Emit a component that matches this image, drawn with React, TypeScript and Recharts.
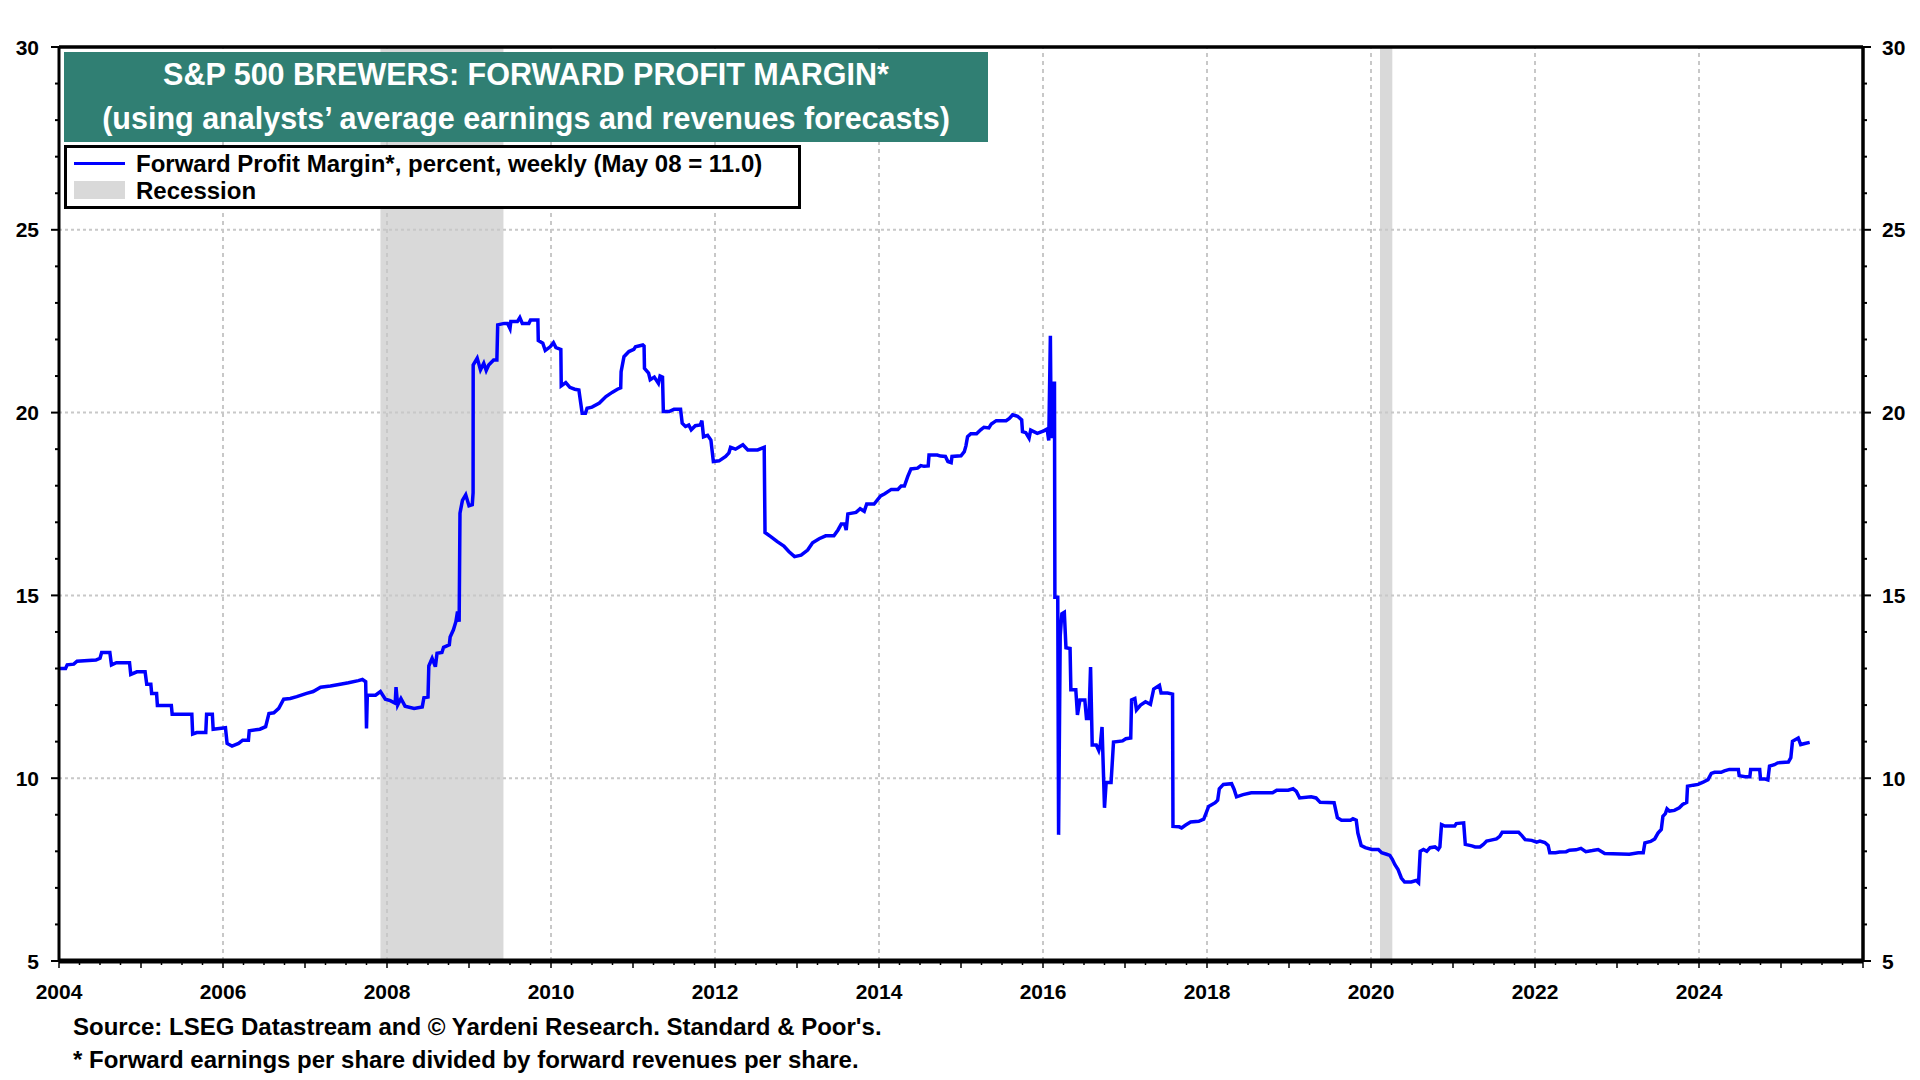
import React from 'react'
import {LineChart, Line, XAxis, YAxis, ReferenceArea, ReferenceLine} from 'recharts'

// weekly forward profit margin (decimal years)
const dates2004 = [2004.0, 2004.08, 2004.1, 2004.18, 2004.22, 2004.45, 2004.5, 2004.52, 2004.62, 2004.64, 2004.7, 2004.86, 2004.875, 2004.95, 2005.05, 2005.07, 2005.12, 2005.13, 2005.19, 2005.2, 2005.37, 2005.38, 2005.62, 2005.63, 2005.68, 2005.79, 2005.8, 2005.87, 2005.88, 2006.03, 2006.05, 2006.11, 2006.19, 2006.24, 2006.31, 2006.32, 2006.45, 2006.52, 2006.56, 2006.62, 2006.68, 2006.74, 2006.82, 2006.9, 2007.02, 2007.1, 2007.19, 2007.31, 2007.43, 2007.53, 2007.65, 2007.7, 2007.74, 2007.75, 2007.76, 2007.86, 2007.92, 2007.98, 2008.04, 2008.1, 2008.11, 2008.13, 2008.17, 2008.22, 2008.33, 2008.43, 2008.45, 2008.5]
const margins2004 = [13.0, 13.0, 13.1, 13.12, 13.2, 13.23, 13.28, 13.44, 13.44, 13.1, 13.16, 13.16, 12.84, 12.91, 12.91, 12.57, 12.57, 12.32, 12.32, 11.99, 11.99, 11.75, 11.75, 11.21, 11.25, 11.25, 11.75, 11.75, 11.34, 11.38, 10.95, 10.88, 10.95, 11.04, 11.04, 11.3, 11.34, 11.41, 11.77, 11.79, 11.91, 12.16, 12.18, 12.23, 12.32, 12.37, 12.49, 12.52, 12.57, 12.61, 12.67, 12.7, 12.64, 11.36, 12.27, 12.27, 12.37, 12.16, 12.12, 12.05, 12.49, 12.0, 12.18, 11.97, 11.91, 11.95, 12.2, 12.22]

const dates2008 = [2008.51, 2008.55, 2008.59, 2008.61, 2008.67, 2008.69, 2008.76, 2008.77, 2008.81, 2008.84, 2008.86, 2008.88, 2008.89, 2008.92, 2008.96, 2009.0, 2009.04, 2009.05, 2009.051, 2009.1, 2009.14, 2009.18, 2009.21, 2009.24, 2009.3, 2009.34, 2009.35, 2009.43, 2009.47, 2009.5, 2009.51, 2009.59, 2009.62, 2009.65, 2009.73, 2009.75, 2009.84, 2009.845, 2009.9, 2009.93, 2009.99, 2010.03, 2010.06, 2010.12, 2010.125, 2010.18, 2010.23, 2010.29, 2010.34, 2010.38, 2010.42, 2010.44, 2010.5, 2010.59, 2010.67, 2010.75, 2010.81, 2010.85, 2010.855, 2010.89, 2010.95, 2011.01, 2011.03, 2011.12, 2011.135, 2011.14, 2011.19, 2011.21, 2011.26, 2011.31, 2011.33, 2011.36, 2011.37, 2011.44, 2011.5, 2011.58, 2011.6, 2011.64, 2011.68, 2011.71, 2011.76, 2011.82, 2011.84, 2011.86, 2011.91, 2011.95, 2011.98]
const margins2008 = [13.07, 13.28, 13.05, 13.42, 13.44, 13.58, 13.65, 13.86, 14.06, 14.28, 14.56, 14.28, 17.25, 17.6, 17.75, 17.45, 17.48, 17.81, 21.3, 21.49, 21.17, 21.35, 21.15, 21.3, 21.44, 21.44, 22.4, 22.44, 22.44, 22.3, 22.49, 22.49, 22.6, 22.44, 22.44, 22.53, 22.53, 21.97, 21.9, 21.7, 21.8, 21.91, 21.78, 21.73, 20.73, 20.82, 20.69, 20.64, 20.62, 19.98, 19.98, 20.12, 20.15, 20.26, 20.44, 20.56, 20.64, 20.68, 21.12, 21.53, 21.67, 21.73, 21.8, 21.85, 21.82, 21.21, 21.08, 20.9, 20.97, 20.8, 21.0, 20.97, 20.03, 20.03, 20.09, 20.09, 19.71, 19.62, 19.66, 19.53, 19.64, 19.66, 19.78, 19.34, 19.38, 19.25, 18.66]

const dates2012 = [2012.05, 2012.13, 2012.17, 2012.19, 2012.25, 2012.34, 2012.4, 2012.52, 2012.6, 2012.61, 2012.68, 2012.76, 2012.84, 2012.9, 2012.97, 2013.05, 2013.13, 2013.19, 2013.27, 2013.35, 2013.45, 2013.5, 2013.54, 2013.58, 2013.6, 2013.62, 2013.72, 2013.77, 2013.82, 2013.85, 2013.94, 2014.02, 2014.07, 2014.15, 2014.23, 2014.27, 2014.31, 2014.35, 2014.39, 2014.47, 2014.51, 2014.55, 2014.6, 2014.61, 2014.71, 2014.75, 2014.81, 2014.84, 2014.88, 2014.89, 2015.0, 2015.04, 2015.06, 2015.08, 2015.12, 2015.19, 2015.24, 2015.28, 2015.34, 2015.37, 2015.43, 2015.55, 2015.59, 2015.63, 2015.69, 2015.74, 2015.75, 2015.79, 2015.83, 2015.85, 2015.93, 2016.01, 2016.05, 2016.07]
const margins2012 = [18.68, 18.8, 18.9, 19.05, 19.0, 19.12, 18.98, 18.98, 19.05, 16.72, 16.61, 16.47, 16.35, 16.2, 16.06, 16.1, 16.24, 16.44, 16.55, 16.63, 16.63, 16.79, 16.95, 16.95, 16.79, 17.23, 17.27, 17.37, 17.3, 17.5, 17.5, 17.72, 17.78, 17.9, 17.9, 17.99, 17.99, 18.25, 18.46, 18.48, 18.55, 18.53, 18.54, 18.84, 18.84, 18.81, 18.8, 18.66, 18.63, 18.8, 18.82, 18.93, 19.09, 19.34, 19.42, 19.42, 19.53, 19.6, 19.58, 19.69, 19.78, 19.78, 19.84, 19.94, 19.9, 19.8, 19.48, 19.45, 19.3, 19.52, 19.43, 19.5, 19.55, 19.24]

const dates2016 = [2016.09, 2016.1, 2016.12, 2016.14, 2016.145, 2016.18, 2016.19, 2016.21, 2016.23, 2016.26, 2016.28, 2016.33, 2016.34, 2016.4, 2016.42, 2016.45, 2016.51, 2016.53, 2016.56, 2016.58, 2016.6, 2016.65, 2016.68, 2016.7, 2016.72, 2016.75, 2016.77, 2016.83, 2016.86, 2016.97, 2017.01, 2017.07, 2017.08, 2017.12, 2017.14, 2017.19, 2017.25, 2017.31, 2017.35, 2017.42, 2017.44, 2017.52, 2017.58, 2017.585, 2017.66, 2017.69, 2017.74, 2017.8, 2017.9, 2017.96, 2017.99, 2018.02, 2018.1, 2018.13, 2018.15, 2018.2, 2018.3, 2018.33, 2018.36, 2018.44, 2018.54, 2018.8, 2018.85, 2018.99, 2019.05, 2019.09, 2019.13, 2019.27, 2019.33, 2019.38, 2019.55, 2019.59, 2019.64, 2019.75, 2019.78, 2019.82, 2019.84, 2019.88, 2019.93]
const margins2016 = [22.1, 19.3, 20.8, 20.8, 14.95, 14.95, 8.45, 13.9, 14.5, 14.54, 13.57, 13.55, 12.42, 12.42, 11.73, 12.14, 12.14, 11.63, 11.63, 13.04, 10.91, 10.91, 10.76, 10.94, 11.4, 9.19, 9.88, 9.88, 10.99, 11.02, 11.08, 11.1, 12.14, 12.18, 11.87, 12.0, 12.09, 12.02, 12.44, 12.54, 12.33, 12.33, 12.3, 8.68, 8.67, 8.64, 8.72, 8.8, 8.82, 8.88, 9.05, 9.23, 9.33, 9.4, 9.71, 9.83, 9.85, 9.7, 9.49, 9.55, 9.6, 9.6, 9.67, 9.67, 9.71, 9.64, 9.46, 9.49, 9.46, 9.34, 9.33, 8.92, 8.85, 8.85, 8.89, 8.85, 8.5, 8.16, 8.1]

const dates2020 = [2020.01, 2020.09, 2020.13, 2020.19, 2020.23, 2020.26, 2020.29, 2020.33, 2020.37, 2020.41, 2020.49, 2020.55, 2020.58, 2020.6, 2020.64, 2020.68, 2020.72, 2020.78, 2020.82, 2020.84, 2020.86, 2020.9, 2021.02, 2021.04, 2021.13, 2021.15, 2021.23, 2021.27, 2021.33, 2021.37, 2021.41, 2021.45, 2021.53, 2021.57, 2021.6, 2021.8, 2021.84, 2021.88, 2021.96, 2022.02, 2022.06, 2022.12, 2022.16, 2022.18, 2022.25, 2022.3, 2022.38, 2022.42, 2022.5, 2022.56, 2022.62, 2022.7, 2022.77, 2022.82, 2022.85, 2023.05, 2023.15, 2023.26, 2023.32, 2023.34, 2023.41, 2023.46, 2023.5, 2023.54, 2023.56, 2023.59, 2023.61, 2023.64, 2023.7, 2023.76, 2023.8, 2023.85, 2023.86, 2023.93, 2023.99, 2024.05, 2024.11, 2024.15, 2024.19, 2024.27, 2024.31, 2024.37, 2024.48, 2024.49, 2024.56, 2024.62, 2024.63, 2024.74, 2024.75, 2024.8, 2024.84, 2024.86, 2024.92, 2024.96, 2025.09, 2025.12, 2025.14, 2025.21, 2025.24, 2025.29, 2025.35]
const margins2020 = [8.05, 8.05, 7.96, 7.92, 7.89, 7.78, 7.64, 7.5, 7.27, 7.16, 7.16, 7.2, 7.14, 8.0, 8.05, 8.0, 8.1, 8.12, 8.05, 8.12, 8.73, 8.69, 8.69, 8.76, 8.78, 8.19, 8.15, 8.12, 8.12, 8.19, 8.28, 8.3, 8.34, 8.41, 8.52, 8.52, 8.43, 8.32, 8.3, 8.25, 8.28, 8.24, 8.16, 7.96, 7.96, 7.98, 7.99, 8.03, 8.04, 8.08, 7.99, 8.02, 8.05, 7.98, 7.94, 7.93, 7.92, 7.96, 7.96, 8.23, 8.27, 8.34, 8.5, 8.6, 8.96, 9.03, 9.16, 9.1, 9.12, 9.19, 9.28, 9.34, 9.78, 9.81, 9.83, 9.89, 9.96, 10.13, 10.16, 10.16, 10.2, 10.24, 10.24, 10.07, 10.04, 10.04, 10.24, 10.24, 9.98, 9.98, 9.95, 10.33, 10.37, 10.42, 10.44, 10.56, 11.01, 11.1, 10.92, 10.95, 10.98]

const recessions = [[2007.92, 2009.42], [2020.11, 2020.26]]
const yearLabels = [2004, 2006, 2008, 2010, 2012, 2014, 2016, 2018, 2020, 2022, 2024]
const valueLabels = [5, 10, 15, 20, 25, 30]

const allDates = [...dates2004, ...dates2008, ...dates2012, ...dates2016, ...dates2020]
const allMargins = [...margins2004, ...margins2008, ...margins2012, ...margins2016, ...margins2020]
const data = allDates.map((t, i) => ({t, v: allMargins[i]}))

const quarterTicks: number[] = []
for (let q = 0; q <= 88; q++) quarterTicks.push(2004 + q / 4)
const unitTicks: number[] = []
for (let u = 5; u <= 30; u++) unitTicks.push(u)

const FONT = '"Liberation Sans", Arial, sans-serif'
const GRID = '#c8c8c8'

const LeftTick = ({x, y, payload}) => {
  const major = valueLabels.includes(payload.value)
  return (
    <g>
      <line x1={x} x2={x - (major ? 8 : 4)} y1={y} y2={y} stroke="#000" strokeWidth={2}/>
      {major && <text x={x - 20} y={y} textAnchor="end" dominantBaseline="central" fontFamily={FONT} fontWeight="bold" fontSize={21} fill="#000">{payload.value}</text>}
    </g>
  )
}

const RightTick = ({x, y, payload}) => {
  const major = valueLabels.includes(payload.value)
  return (
    <g>
      <line x1={x} x2={x + (major ? 8 : 4)} y1={y} y2={y} stroke="#000" strokeWidth={2}/>
      {major && <text x={x + 19} y={y} textAnchor="start" dominantBaseline="central" fontFamily={FONT} fontWeight="bold" fontSize={21} fill="#000">{payload.value}</text>}
    </g>
  )
}

const BottomTick = ({x, y, payload}) => {
  const yr = Math.round(payload.value * 4) / 4
  const whole = Number.isInteger(yr)
  const label = yearLabels.includes(yr)
  return (
    <g>
      <line x1={x} x2={x} y1={y} y2={y + (whole ? 7 : 4)} stroke="#000" strokeWidth={1.5}/>
      {label && <text x={x} y={y + 30} textAnchor="middle" dominantBaseline="central" fontFamily={FONT} fontWeight="bold" fontSize={21} fill="#000">{yr}</text>}
    </g>
  )
}

export default function App() {
  return (
    <div style={{position: 'absolute', left: 0, top: 0, width: 1920, height: 1080, background: '#fff', fontFamily: FONT}}>
      <LineChart width={1920} height={1080} data={data} margin={{top: 47, right: 7, bottom: 79, left: 9}}>
        <XAxis dataKey="t" type="number" domain={[2004, 2026]} ticks={quarterTicks} interval={0} allowDataOverflow
               tick={BottomTick} tickLine={false} tickSize={0} tickMargin={0} height={40}
               axisLine={{stroke: '#000', strokeWidth: 5}}/>
        <YAxis yAxisId="left" type="number" domain={[5, 30]} ticks={unitTicks} interval={0} allowDataOverflow
               tick={LeftTick} tickLine={false} tickSize={0} tickMargin={0} width={50}
               axisLine={{stroke: '#000', strokeWidth: 3}}/>
        <YAxis yAxisId="right" orientation="right" type="number" domain={[5, 30]} ticks={unitTicks} interval={0} allowDataOverflow
               tick={RightTick} tickLine={false} tickSize={0} tickMargin={0} width={50}
               axisLine={{stroke: '#000', strokeWidth: 3.5}}/>
        {recessions.map(([a, b], i) => (
          <ReferenceArea key={`rec-${i}`} yAxisId="left" x1={a} x2={b} y1={5} y2={30} fill="#d9d9d9" fillOpacity={1} stroke="none"/>
        ))}
        {valueLabels.filter(v => v > 5 && v < 30).map(v => (
          <ReferenceLine key={`h-${v}`} yAxisId="left" y={v} stroke={GRID} strokeWidth={2} strokeDasharray="3 3"/>
        ))}
        {yearLabels.filter(y => y > 2004).map(y => (
          <ReferenceLine key={`v-${y}`} yAxisId="left" x={y} stroke={GRID} strokeWidth={2} strokeDasharray="4 4"/>
        ))}
        <ReferenceLine yAxisId="left" y={30} stroke="#000" strokeWidth={3.5}/>
        <Line yAxisId="left" dataKey="v" type="linear" stroke="#0000ff" strokeWidth={3.5} dot={false} isAnimationActive={false}/>
      </LineChart>

      <div style={{position: 'absolute', left: 64, top: 52, width: 924, height: 90, background: '#307f73', color: '#fff',
                   textAlign: 'center', fontWeight: 'bold', fontSize: 30.5, lineHeight: '44px'}}>
        <div>S&amp;P 500 BREWERS: FORWARD PROFIT MARGIN*</div>
        <div>(using analysts’ average earnings and revenues forecasts)</div>
      </div>

      <div style={{position: 'absolute', left: 64, top: 145, width: 737, height: 64, border: '3px solid #000', boxSizing: 'border-box',
                   background: '#fff', fontWeight: 'bold', fontSize: 24}}>
        <div style={{position: 'absolute', left: 7, top: 14, width: 51, height: 3, background: '#0000ff'}}/>
        <div style={{position: 'absolute', left: 69, top: 2, lineHeight: '27px'}}>Forward Profit Margin*, percent, weekly (May 08 = 11.0)</div>
        <div style={{position: 'absolute', left: 7, top: 33, width: 51, height: 18, background: '#d9d9d9'}}/>
        <div style={{position: 'absolute', left: 69, top: 29, lineHeight: '27px'}}>Recession</div>
      </div>

      <div style={{position: 'absolute', left: 73, top: 1012, fontWeight: 'bold', fontSize: 24, lineHeight: '30px'}}>
        Source: LSEG Datastream and © Yardeni Research. Standard &amp; Poor's.
      </div>
      <div style={{position: 'absolute', left: 73, top: 1045, fontWeight: 'bold', fontSize: 24, lineHeight: '30px'}}>
        * Forward earnings per share divided by forward revenues per share.
      </div>
    </div>
  )
}
